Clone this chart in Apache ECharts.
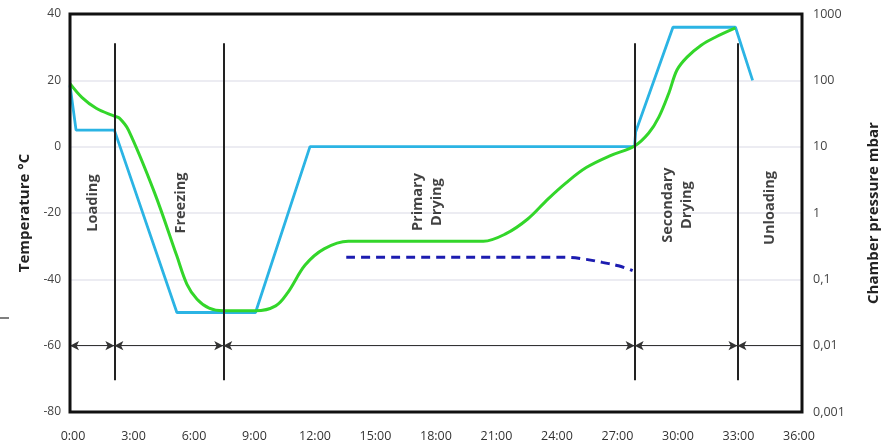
<!DOCTYPE html>
<html><head><meta charset="utf-8">
<script src="https://cdn.jsdelivr.net/npm/echarts@6/dist/echarts.min.js"></script>
<style>html,body{margin:0;padding:0;background:#fff}#c{width:889px;height:443px}</style>
</head><body><div id="c"></div>
<script>
// ---- data ----
const xTickLabels = ['0:00','3:00','6:00','9:00','12:00','15:00','18:00','21:00','24:00','27:00','30:00','33:00','36:00'];
const pressureTickLabels = ['0,001','0,01','0,1','1','10','100','1000'];
// shelf temperature (°C) [hours, value]
const shelfTemp = [[0,18.5],[0.3,5],[2.2,5],[5.3,-50],[9.2,-50],[11.9,0],[28.0,0],[28.05,4.4],[29.9,36],[33.0,36],[33.85,20]];
// product temperature (°C)
const productTemp = [[0,19],[0.6,14.8],[1.3,11.6],[2.2,9.2],[2.45,8.6],[2.9,5],[4.2,-14],[5.3,-33],[5.8,-41.5],[6.3,-46],[6.9,-48.7],[7.6,-49.5],[9.2,-49.5],[10.2,-48],[10.8,-44],[11.66,-35.7],[12.6,-30.8],[13.8,-28.5],[20.5,-28.5],[21.6,-26.3],[22.7,-21.8],[23.7,-15.8],[24.6,-10.9],[25.6,-6.3],[26.8,-2.7],[28.0,0.2],[28.7,4.1],[29.2,8.9],[29.7,16.2],[30.1,23.1],[30.6,27],[31.3,30.6],[32.0,33],[33.0,35.8]];
// chamber pressure (mbar)
const chamberPressure = [[13.7,0.215],[24.6,0.215],[25.6,0.2],[26.4,0.18],[27.2,0.16],[27.9,0.135]];
// phases
const phaseBounds = [2.2, 7.6, 28.0, 33.1];
const phaseLineRange = [-70.4, 31.2];
const arrowLevel = -60;
const phaseNames = ['Loading','Freezing','Primary\nDrying','Secondary\nDrying','Unloading'];
const phaseLabelPos = [[1.13,-17],[5.5,-17],[17.7,-16.7],[30.1,-17.6],[34.7,-18.5]];
const xMax = 36.3;

// ---- chart ----
const FONT = 'Open Sans';
const chart = echarts.init(document.getElementById('c'));

const vLines = phaseBounds.map(b => [{coord:[b, phaseLineRange[0]]},{coord:[b, phaseLineRange[1]]}]);
const edges = [0].concat(phaseBounds).concat([xMax]);
const arrowLines = [];
for (let i = 0; i < edges.length - 1; i++) {
  const last = i === edges.length - 2;
  arrowLines.push([
    {coord:[edges[i], arrowLevel], symbol:'arrow'},
    {coord:[edges[i+1], arrowLevel], symbol: last ? 'none' : 'arrow'}
  ]);
}

chart.setOption({
  animation:false,
  textStyle:{fontFamily:FONT},
  grid:{left:70,right:81,top:14,bottom:31,show:true,borderColor:'#111',borderWidth:3,backgroundColor:'transparent',z:10},
  xAxis:{type:'value',min:0,max:xMax,interval:3,
    axisLine:{show:false},axisTick:{show:false},splitLine:{show:false},
    axisLabel:{color:'#333',fontSize:12.5,fontFamily:FONT,margin:18,padding:[0,0,0,6],
      formatter:v=>{const k=Math.round(v/3); return Math.abs(v-k*3)<1e-6 && xTickLabels[k]!==undefined ? xTickLabels[k] : '';}}},
  yAxis:[
    {type:'value',min:-80,max:40,interval:20,name:'Temperature °C',nameLocation:'middle',nameGap:38,
      nameTextStyle:{color:'#222',fontSize:15,fontWeight:'bold',fontFamily:FONT},
      axisLine:{show:false},axisTick:{show:false},
      axisLabel:{color:'#444',fontSize:12,fontFamily:FONT,margin:9},
      splitLine:{show:true,showMinLine:false,showMaxLine:false,lineStyle:{color:'#e6e6ee',width:1.5}}},
    {type:'log',logBase:10,min:0.001,max:1000,position:'right',name:'Chamber pressure mbar',nameLocation:'middle',nameGap:64,
      nameTextStyle:{color:'#222',fontSize:15,fontWeight:'bold',fontFamily:FONT},
      axisLine:{show:false},axisTick:{show:false},splitLine:{show:false},
      axisLabel:{color:'#444',fontSize:12.5,fontFamily:FONT,margin:11,
        formatter:v=>{const k=Math.round(Math.log10(v))+3; return pressureTickLabels[k]||'';}}}
  ],
  series:[
    {type:'line',name:'frame',data:[],silent:true,
      markLine:{silent:true,symbol:['none','none'],label:{show:false},
        lineStyle:{color:'#222',width:2,type:'solid'},data:vLines}},
    {type:'line',name:'arrows',data:[],silent:true,
      markLine:{silent:true,symbolSize:[7,9],label:{show:false},
        lineStyle:{color:'#333',width:1.2,type:'solid'},itemStyle:{color:'#111'},data:arrowLines}},
    {type:'line',name:'Shelf',data:shelfTemp,yAxisIndex:0,showSymbol:false,symbol:'none',
      lineStyle:{color:'#2bb4e4',width:2.8},itemStyle:{color:'#2bb4e4'},z:3},
    {type:'line',name:'Product',data:productTemp,yAxisIndex:0,showSymbol:false,symbol:'none',smooth:0.35,
      lineStyle:{color:'#33d62a',width:3},itemStyle:{color:'#33d62a'},z:4},
    {type:'line',name:'Pressure',data:chamberPressure,yAxisIndex:1,showSymbol:false,symbol:'none',smooth:0.4,
      lineStyle:{color:'#1c1cb0',width:3,type:[9,6]},itemStyle:{color:'#1c1cb0'},z:4},
    {type:'scatter',name:'phases',yAxisIndex:0,silent:true,symbolSize:1,itemStyle:{color:'rgba(0,0,0,0)'},
      data:phaseLabelPos.map((p,i)=>({value:p,name:phaseNames[i]})),
      label:{show:true,position:'inside',rotate:90,formatter:'{b}',color:'#111',fontSize:14.5,fontWeight:'bold',
        fontFamily:FONT,lineHeight:19,align:'center',verticalAlign:'middle'}}
  ],
  graphic:[{type:'line',shape:{x1:0,y1:318,x2:9,y2:318},style:{stroke:'#555',lineWidth:1.5},silent:true}]
});
</script>
</body></html>
